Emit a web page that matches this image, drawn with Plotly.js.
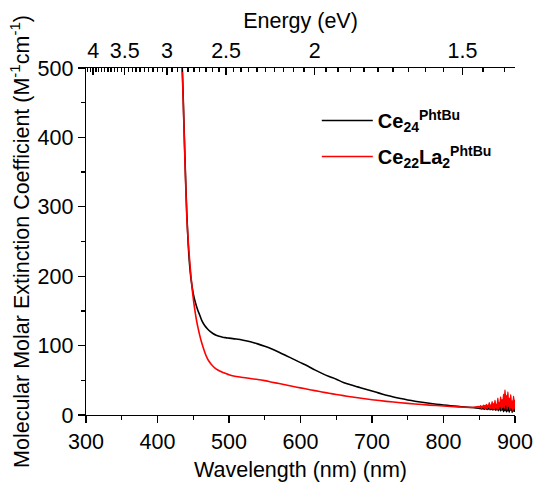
<!DOCTYPE html>
<html>
<head>
<meta charset="utf-8">
<script src="https://cdn.plot.ly/plotly-3.0.1.min.js"></script>
<style>html,body{margin:0;padding:0;background:#fff;}#chart{width:534px;height:482px;}</style>
</head>
<body>
<div id="chart"></div>
<script>
// ---- Data ----
var ceWavelength = [425,430,433,435,437,439,441,443,445,447,450,453,456,459,462,466,470,474,478,482,486,490,495,500,510,520,530,540,550,560,570,580,590,600,610,620,630,640,650,660,670,680,690,700,710,720,730,740,750,760,770,780,790,800,810,820,830,840,
  850,851,852,853,854,855,856,857,858,859,860,861,862,863,864,865,866,867,868,869,870,871,872,873,874,875,876,877,878,879,880,881,882,883,884,885,886,887,888,889,890,891,892,893,894,895,896,897,898,899,900];
var ceValues = [800,640,540,490,420,350,290,245,215,195,175,162,152,144,136,129,124,120,117,115,113.5,112.5,111.5,110.8,109.5,107.8,105.5,102.5,99,95,90.5,85.5,80.5,75.5,70.5,65,60,55.5,51.5,47,43.5,40.5,37.5,34.5,31.5,28.6,26,23.7,21.7,19.9,18.3,16.9,15.6,14.5,13.4,12.4,11.5,10.7,
  9.8,9.0,10.2,8.6,9.8,8.9,10.5,8.2,9.7,10.1,
  8.4,10.8,7.9,9.9,11.0,7.6,10.4,8.1,11.5,7.2,
  10.9,8.0,12.0,6.8,11.2,7.5,12.8,6.2,10.6,13.0,
  5.8,11.9,7.1,14.2,5.0,12.5,6.5,15.0,4.6,13.1,
  6.0,14.8,4.2,12.2,7.0,16.0,3.8,13.5,5.5,15.2,4.5];

var ceLaWavelength = [425,430,433,435,437,439,441,443,445,447,449,451,453,455,457,459,461,464,467,470,473,476,480,485,490,495,500,510,520,530,540,550,560,570,580,590,600,610,620,630,640,650,660,670,680,690,700,720,740,760,780,800,820,840,
  850,851,852,853,854,855,856,857,858,859,860,861,862,863,864,865,866,867,868,869,870,871,872,873,874,875,876,877,878,879,880,881,882,883,884,885,886,887,888,889,890,891,892,893,894,895,896,897,898,899,900];
var ceLaValues = [800,640,540,485,415,345,285,250,222,198,177,160,146,134,124,115,107,97,88,81,76,72,68,64.5,62,60,58,55.5,54,52.5,51.2,49.5,47.3,45.3,43.2,41.1,39.1,37.1,35.1,33.2,31.3,29.6,27.9,26.3,24.8,23.3,22,19.7,17.7,15.9,14.3,12.9,11.7,10.9,
  12.0,10.8,13.2,9.8,12.6,11.0,14.0,9.5,13.5,10.2,
  15.0,9.0,13.8,11.2,17.5,8.6,14.5,10.0,19.0,9.2,
  16.0,8.0,21.0,10.5,15.5,7.5,24.0,9.0,18.0,12.0,
  26.0,8.5,22.0,11.0,30.0,9.5,36.0,14.0,28.0,8.0,
  33.0,12.5,24.0,7.5,29.0,10.0,20.0,6.5,27.0,9.0,22.0];

var seriesNames = ['<b>Ce<sub>24</sub><sup>PhtBu</sup></b>', '<b>Ce<sub>22</sub>La<sub>2</sub><sup>PhtBu</sup></b>'];
var energyMajor = [4, 3.5, 3, 2.5, 2, 1.5];
var energyLabels = ['4', '3.5', '3', '2.5', '2', '1.5'];
var hc = 1239.84; // eV*nm conversion for the top energy axis

// energy minor ticks every 0.05 eV
var energyMinor = [];
for (var e = 4.15; e >= 1.35; e -= 0.05) {
  var v = Math.round(e * 100) / 100;
  if (energyMajor.indexOf(v) < 0) energyMinor.push(hc / v);
}
var topTickVals = energyMajor.map(function (E) { return hc / E; });

var FONT = 'Liberation Sans, Arial, sans-serif';
var FS = 21.5;

var traces = [
  {x: ceWavelength, y: ceValues, name: seriesNames[0], type: 'scatter', mode: 'lines',
   legendgroup: 'a', line: {color: '#000000', width: 1.6, shape: 'spline', smoothing: 0.7}},
  {x: ceLaWavelength, y: ceLaValues, name: seriesNames[1], type: 'scatter', mode: 'lines',
   legendgroup: 'b', line: {color: '#ff0000', width: 1.6, shape: 'spline', smoothing: 0.7}},
  // same data on the top (energy) axis so that axis is drawn; invisible
  {x: ceWavelength, y: ceValues, xaxis: 'x2', yaxis: 'y', type: 'scatter', mode: 'lines',
   showlegend: false, hoverinfo: 'skip', opacity: 0, line: {color: 'rgba(0,0,0,0)', width: 0}}
];

var layout = {
  width: 534, height: 482,
  margin: {l: 86, r: 19, t: 68, b: 67},
  paper_bgcolor: '#ffffff', plot_bgcolor: '#ffffff',
  font: {family: FONT, size: FS, color: '#000'},
  showlegend: true,
  legend: {x: 0.538, y: 0.905, xanchor: 'left', yanchor: 'top', bgcolor: 'rgba(0,0,0,0)',
           font: {family: FONT, size: 20, color: '#000'}, traceorder: 'grouped', tracegroupgap: 7,
           itemwidth: 51},
  xaxis: {
    range: [300, 900], tickmode: 'linear', tick0: 300, dtick: 100,
    ticks: 'outside', ticklen: 7, tickwidth: 1.3, tickcolor: '#000',
    minor: {tickmode: 'linear', tick0: 300, dtick: 50, ticks: 'outside', ticklen: 4, tickwidth: 1.3, tickcolor: '#000'},
    showline: true, linecolor: '#000', linewidth: 1.3, showgrid: false, zeroline: false,
    tickfont: {family: FONT, size: FS, color: '#000'},
    title: {text: 'Wavelength (nm) (nm)', font: {family: FONT, size: FS, color: '#000'}, standoff: 12}
  },
  xaxis2: {
    overlaying: 'x', side: 'top', anchor: 'y', range: [300, 900],
    tickmode: 'array', tickvals: topTickVals, ticktext: energyLabels,
    ticks: 'inside', ticklen: 7, tickwidth: 1.3, tickcolor: '#000',
    minor: {tickmode: 'array', tickvals: energyMinor, ticks: 'inside', ticklen: 4, tickwidth: 1.3, tickcolor: '#000'},
    showline: true, linecolor: '#000', linewidth: 1.3, showgrid: false, zeroline: false,
    tickfont: {family: FONT, size: FS, color: '#000'},
    title: {text: 'Energy (eV)', font: {family: FONT, size: FS, color: '#000'}, standoff: 4}
  },
  yaxis: {
    range: [0, 500], tickmode: 'linear', tick0: 0, dtick: 100,
    ticks: 'outside', ticklen: 7, tickwidth: 1.3, tickcolor: '#000',
    minor: {tickmode: 'linear', tick0: 0, dtick: 50, ticks: 'outside', ticklen: 4, tickwidth: 1.3, tickcolor: '#000'},
    showline: true, linecolor: '#000', linewidth: 1.3, showgrid: false, zeroline: false,
    tickfont: {family: FONT, size: FS, color: '#000'},
    title: {text: 'Molecular Molar Extinction Coefficient (M<sup>-1</sup>cm<sup>-1</sup>)', font: {family: FONT, size: 21.5, color: '#000'}, standoff: 2}
  }
};

Plotly.newPlot('chart', traces, layout, {displayModeBar: false, staticPlot: true});
</script>
</body>
</html>
